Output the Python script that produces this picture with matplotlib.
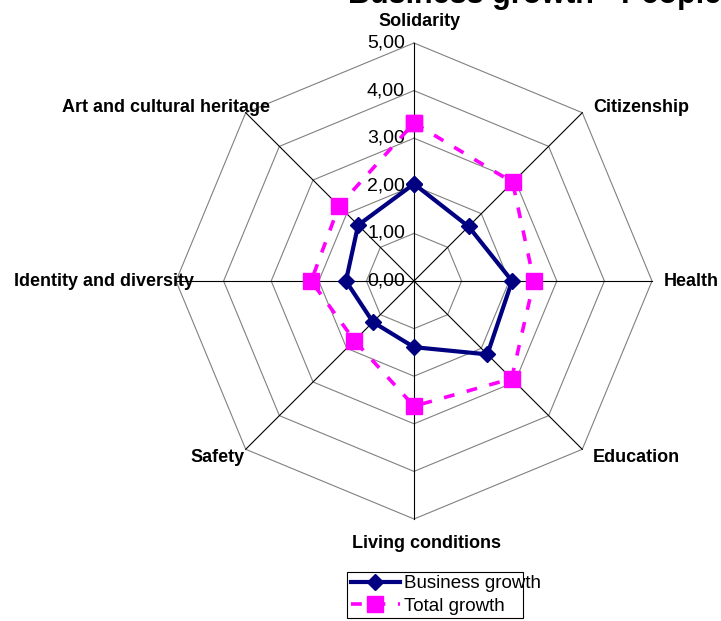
import numpy as np
import matplotlib
matplotlib.use('Agg')
import matplotlib.pyplot as plt
from matplotlib.patches import Rectangle

plt.rcParams['font.family'] = ['Liberation Sans', 'DejaVu Sans']

categories = ['Solidarity', 'Citizenship', 'Health', 'Education',
              'Living conditions', 'Safety', 'Identity and diversity',
              'Art and cultural heritage']
business_growth = [2.04, 1.62, 2.06, 2.18, 1.39, 1.22, 1.43, 1.66]
total_growth = [3.32, 2.93, 2.52, 2.90, 2.63, 1.77, 2.16, 2.23]
ring_values = [0, 1, 2, 3, 4, 5]
ring_labels = ['0,00', '1,00', '2,00', '3,00', '4,00', '5,00']
title = 'Business growth - People'

# figure geometry (pixels) for placing the radar centre
W, H = 721, 621
cx, cy = 414, 281
px_per_unit = 47.6

fig = plt.figure(figsize=(W / 100, H / 100), dpi=100)
ax = fig.add_axes([0, 0, 1, 1])
ax.set_xlim(-cx / px_per_unit, (W - cx) / px_per_unit)
ax.set_ylim(-(H - cy) / px_per_unit, cy / px_per_unit)
ax.axis('off')

n = len(categories)
angles = np.pi / 2 - np.arange(n) * 2 * np.pi / n


def to_xy(vals):
    vals = np.asarray(vals, dtype=float)
    x = vals * np.cos(angles)
    y = vals * np.sin(angles)
    return np.append(x, x[0]), np.append(y, y[0])


# octagonal grid
for r in ring_values[1:]:
    gx, gy = to_xy([r] * n)
    ax.plot(gx, gy, color='#808080', lw=0.8, zorder=1)
rmax = ring_values[-1]
for a in angles:
    ax.plot([0, rmax * np.cos(a)], [0, rmax * np.sin(a)], color='black', lw=0.8, zorder=1)

# ring value labels
for r, lab in zip(ring_values, ring_labels):
    ax.text(-0.19, r, lab, ha='right', va='center', fontsize=14, zorder=2)

# category labels (pixel centres)
label_pos = {
    'Solidarity': (420, 22),
    'Citizenship': (641, 107),
    'Health': (691, 281),
    'Education': (636, 458),
    'Living conditions': (427, 543),
    'Safety': (218, 458),
    'Identity and diversity': (104, 282),
    'Art and cultural heritage': (166, 107),
}
for cat in categories:
    px, py = label_pos[cat]
    ax.text(px / W, 1 - py / H, cat, transform=fig.transFigure, ha='center',
            va='center', fontsize=13, fontweight='bold')

# series
tx, ty = to_xy(total_growth)
ax.plot(tx, ty, color='#FF00FF', lw=2.6, ls=(0, (3, 3.5)), marker='s',
        markersize=11, markeredgecolor='#FF00FF', label='Total growth', zorder=3)
bx, by = to_xy(business_growth)
ax.plot(bx, by, color='#000080', lw=3, marker='D', markersize=8,
        label='Business growth', zorder=4)

handles, labels = ax.get_legend_handles_labels()
leg = ax.legend(handles[::-1], labels[::-1], loc='upper left',
                bbox_to_anchor=(351 / W, 1 - 575 / H), bbox_transform=fig.transFigure,
                fontsize=13.5, frameon=False, borderpad=0, labelspacing=0.3,
                handlelength=2.6, handletextpad=0.25, borderaxespad=0)
fig.patches.append(Rectangle((347 / W, 1 - 618 / H), 176 / W, 46 / H,
                             transform=fig.transFigure, fill=False,
                             edgecolor='black', lw=0.8))

fig.text(348 / W, 1 - 2.5 / H, title, ha='left', va='baseline', fontsize=22,
         fontweight='bold')

fig.savefig('out.png', dpi=100)
